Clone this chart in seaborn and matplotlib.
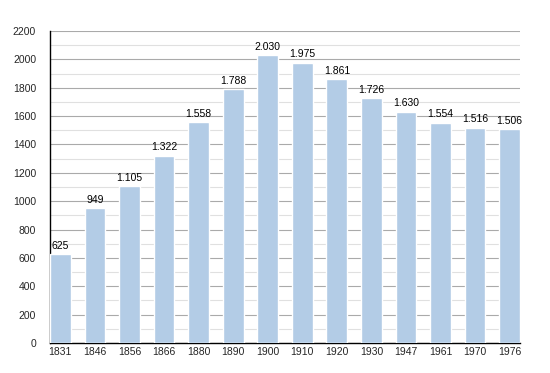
import matplotlib
matplotlib.use("Agg")
import matplotlib.pyplot as plt
import seaborn as sns
import pandas as pd
from matplotlib.ticker import MultipleLocator

years = ["1831", "1846", "1856", "1866", "1880", "1890", "1900", "1910", "1920", "1930", "1947", "1961", "1970", "1976"]
population = [625, 949, 1105, 1322, 1558, 1788, 2030, 1975, 1861, 1726, 1630, 1554, 1516, 1506]

df = pd.DataFrame({"year": years, "pop": population})

sns.set_style("white")
plt.rcParams['font.family'] = ['Liberation Sans', 'DejaVu Sans']

fig = plt.figure(figsize=(5.5, 3.73), dpi=100)
ax = fig.add_axes([50/550, 30/373, 470/550, 312/373])

sns.barplot(data=df, x="year", y="pop", color="#b3cce6", saturation=1, width=0.6, ax=ax, zorder=3)

ax.set_ylim(0, 2200)
ax.set_xlim(-0.3, 13.3)
ax.yaxis.set_major_locator(MultipleLocator(200))
ax.yaxis.set_minor_locator(MultipleLocator(100))
ax.grid(axis="y", which="major", color="#aaaaaa", linewidth=0.8, zorder=0)
ax.grid(axis="y", which="minor", color="#e0e0e0", linewidth=0.8, zorder=0)
ax.set_axisbelow(True)

for s in ["top", "right"]:
    ax.spines[s].set_visible(False)
ax.spines["left"].set_color("black")
ax.spines["bottom"].set_color("black")
ax.spines["left"].set_linewidth(1.0)
ax.spines["bottom"].set_linewidth(1.0)

ax.tick_params(axis="y", which="major", length=4, width=0.8, labelsize=7.5, color="black", direction="out", pad=6)
ax.tick_params(axis="y", which="minor", length=3, width=0.8, color="black", direction="out")
ax.tick_params(axis="x", length=0, labelsize=7.5, pad=3)
ax.set_xlabel("")
ax.set_ylabel("")

for i, v in enumerate(population):
    lab = f"{v:,}".replace(",", ".")
    ax.text(i, v + 25, lab, ha="center", va="bottom", fontsize=7.5, color="black", zorder=4)

fig.savefig("out.png", dpi=100)
